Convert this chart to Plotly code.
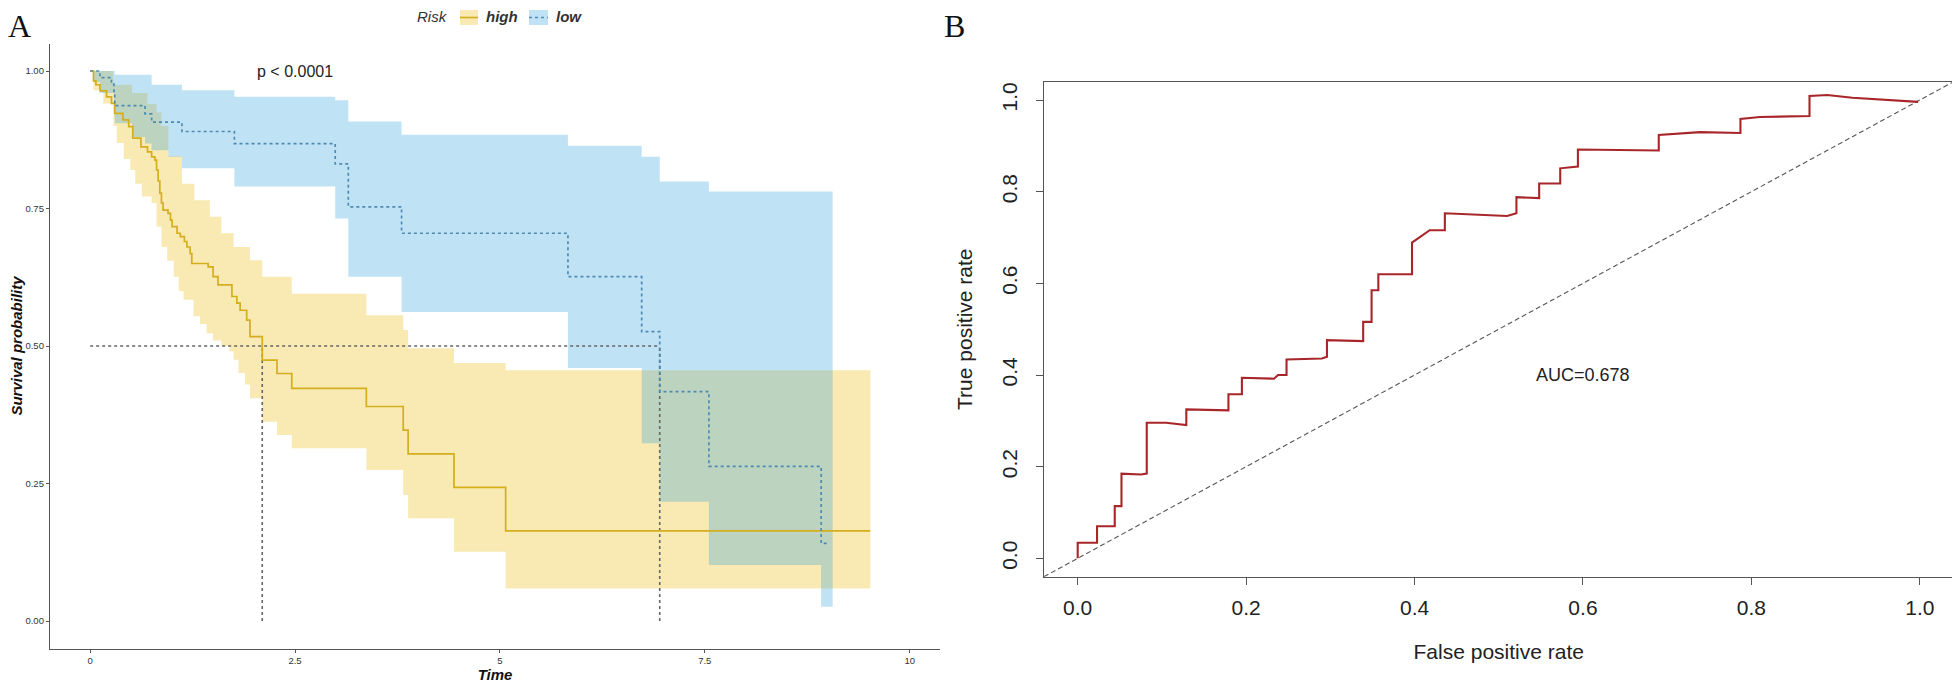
import plotly.graph_objects as go

# ---- Panel A: Kaplan-Meier curves by risk group ----
high_time = [0, 0.04, 0.07, 0.12, 0.20, 0.26, 0.30, 0.40, 0.47, 0.52, 0.62, 0.70, 0.75, 0.79, 0.81,
             0.83, 0.85, 0.87, 0.89, 0.95, 0.98, 1.00, 1.06, 1.10, 1.15, 1.18, 1.22, 1.24, 1.44, 1.50,
             1.56, 1.73, 1.79, 1.83, 1.91, 1.95, 2.10, 2.28, 2.46, 3.37, 3.82, 3.88, 4.44, 5.07, 9.52]
high_surv = [1.0, 0.982, 0.975, 0.964, 0.953, 0.941, 0.923, 0.911, 0.899, 0.878, 0.862, 0.853, 0.844, 0.838, 0.820,
             0.800, 0.778, 0.760, 0.747, 0.741, 0.729, 0.717, 0.705, 0.699, 0.690, 0.680, 0.668, 0.650, 0.644, 0.626,
             0.611, 0.590, 0.578, 0.565, 0.547, 0.517, 0.4745, 0.450, 0.423, 0.390, 0.347, 0.304, 0.243, 0.164, 0.164]

high_upper_time = [0, 0.28, 0.51, 0.70, 0.81, 0.87, 0.955, 1.12, 1.27, 1.46, 1.60, 1.75, 1.95, 2.10,
                   2.46, 3.37, 3.82, 3.88, 4.44, 5.07, 9.52]
high_upper = [1.0, 0.975, 0.96, 0.94, 0.925, 0.90, 0.845, 0.795, 0.765, 0.735, 0.705, 0.68, 0.656, 0.626,
              0.595, 0.556, 0.529, 0.496, 0.469, 0.456, 0.456]

high_lower_time = [0, 0.04, 0.16, 0.285, 0.325, 0.41, 0.49, 0.55, 0.63, 0.75, 0.81, 0.87, 0.94, 1.02, 1.08,
                   1.14, 1.26, 1.34, 1.42, 1.50, 1.60, 1.70, 1.75, 1.81, 1.89, 1.95, 2.10, 2.28, 2.46, 3.37,
                   3.82, 3.88, 4.44, 5.07, 9.52]
high_lower = [1.0, 0.965, 0.941, 0.90, 0.869, 0.84, 0.82, 0.795, 0.772, 0.76, 0.717, 0.68, 0.655, 0.626, 0.60,
              0.584, 0.554, 0.54, 0.523, 0.51, 0.50, 0.49, 0.475, 0.451, 0.43, 0.405, 0.3625, 0.338, 0.314, 0.2745,
              0.229, 0.187, 0.126, 0.059, 0.059]

low_time = [0, 0.12, 0.26, 0.29, 0.30, 0.67, 0.75, 1.12, 1.76, 2.99, 3.15, 3.80, 5.83, 6.73, 6.95, 7.55, 8.92, 9.00]
low_surv = [1.0, 0.988, 0.976, 0.958, 0.937, 0.922, 0.907, 0.89, 0.868, 0.831, 0.753, 0.705, 0.626, 0.526,
            0.417, 0.281, 0.141, 0.141]

low_upper_time = [0, 0.30, 0.75, 1.12, 1.76, 2.99, 3.15, 3.80, 5.83, 6.73, 6.95, 7.55, 9.06]
low_upper = [1.0, 0.993, 0.975, 0.965, 0.953, 0.947, 0.908, 0.884, 0.864, 0.844, 0.799, 0.781, 0.781]

low_lower_time = [0, 0.04, 0.12, 0.29, 0.30, 0.51, 0.67, 0.75, 0.955, 1.12, 1.76, 2.99, 3.15, 3.80, 5.83,
                  6.73, 6.95, 7.55, 8.92, 9.06]
low_lower = [1.0, 0.98, 0.96, 0.93, 0.905, 0.88, 0.868, 0.856, 0.844, 0.823, 0.79, 0.732, 0.626, 0.562, 0.46,
             0.323, 0.217, 0.102, 0.026, 0.026]

median_times = [2.10, 6.95]
km_xticks = [0, 2.5, 5, 7.5, 10]
km_xlabels = ["0", "2.5", "5", "7.5", "10"]
km_yticks = [0, 0.25, 0.5, 0.75, 1.0]
km_ylabels = ["0.00", "0.25", "0.50", "0.75", "1.00"]

# ---- Panel B: ROC curve ----
fpr = [0, 0, 0.023, 0.023, 0.044, 0.044, 0.052, 0.052, 0.075, 0.082, 0.082, 0.105, 0.129, 0.129, 0.179,
       0.179, 0.195, 0.195, 0.233, 0.238, 0.248, 0.248, 0.290, 0.296, 0.296, 0.339, 0.339, 0.349, 0.349, 0.357,
       0.357, 0.397, 0.397, 0.418, 0.436, 0.436, 0.510, 0.521, 0.521, 0.548, 0.548, 0.573, 0.573, 0.594, 0.594,
       0.690, 0.690, 0.720, 0.739, 0.787, 0.787, 0.810, 0.869, 0.869, 0.890, 0.920, 0.955, 0.998]
tpr = [0, 0.034, 0.034, 0.070, 0.070, 0.114, 0.114, 0.185, 0.183, 0.185, 0.296, 0.296, 0.291, 0.325, 0.323,
       0.358, 0.358, 0.394, 0.392, 0.400, 0.400, 0.434, 0.436, 0.440, 0.476, 0.474, 0.516, 0.516, 0.585, 0.585,
       0.620, 0.620, 0.689, 0.716, 0.716, 0.753, 0.747, 0.753, 0.788, 0.786, 0.818, 0.818, 0.851, 0.855, 0.892,
       0.890, 0.924, 0.928, 0.930, 0.928, 0.9585, 0.963, 0.965, 1.009, 1.011, 1.005, 1.001, 0.996]
auc_label = "AUC=0.678"
roc_range = [-0.04, 1.04]
roc_ticks = [0, 0.2, 0.4, 0.6, 0.8, 1.0]
roc_labels = ["0.0", "0.2", "0.4", "0.6", "0.8", "1.0"]

W, H = 1960, 688
OFF = 8  # the page body margin pushes the figure down/right by this much
HIGH_LINE, HIGH_FILL = "#D4AE1E", "rgba(231,184,0,0.30)"
LOW_LINE, LOW_FILL = "#4F8AB2", "rgba(46,159,223,0.30)"
SANS = "Liberation Sans"


def px(x):
    return (x - OFF) / W


def py(y):
    return 1 - (y - OFF) / H


fig = go.Figure()

# confidence bands (lower edge, then upper edge filled back to it)
for lt, lv, ut, uv, fc in [(high_lower_time, high_lower, high_upper_time, high_upper, HIGH_FILL),
                           (low_lower_time, low_lower, low_upper_time, low_upper, LOW_FILL)]:
    fig.add_trace(go.Scatter(x=lt, y=lv, mode="lines", line=dict(width=0, shape="hv"),
                             hoverinfo="skip", showlegend=False, xaxis="x", yaxis="y"))
    fig.add_trace(go.Scatter(x=ut, y=uv, mode="lines", line=dict(width=0, shape="hv"),
                             fill="tonexty", fillcolor=fc, hoverinfo="skip", showlegend=False,
                             xaxis="x", yaxis="y"))

# median reference lines
fig.add_trace(go.Scatter(x=[0, max(median_times)], y=[0.5, 0.5], mode="lines",
                         line=dict(color="#666666", width=1.6, dash="dot"), showlegend=False,
                         xaxis="x", yaxis="y"))
for mt in median_times:
    fig.add_trace(go.Scatter(x=[mt, mt], y=[0, 0.5], mode="lines",
                             line=dict(color="#666666", width=1.6, dash="dot"), showlegend=False,
                             xaxis="x", yaxis="y"))

# survival curves
fig.add_trace(go.Scatter(x=high_time, y=high_surv, mode="lines", name="high",
                         line=dict(color=HIGH_LINE, width=1.7, shape="hv"), showlegend=False,
                         xaxis="x", yaxis="y"))
fig.add_trace(go.Scatter(x=low_time, y=low_surv, mode="lines", name="low",
                         line=dict(color=LOW_LINE, width=1.7, shape="hv", dash="dot"), showlegend=False,
                         xaxis="x", yaxis="y"))

# ROC
fig.add_trace(go.Scatter(x=roc_range, y=roc_range, mode="lines",
                         line=dict(color="#555555", width=1.1, dash="5px,3px"), showlegend=False,
                         xaxis="x2", yaxis="y2"))
fig.add_trace(go.Scatter(x=fpr, y=tpr, mode="lines", line=dict(color="#A8262A", width=2.1),
                         showlegend=False, xaxis="x2", yaxis="y2"))

km_axis = dict(showline=True, linecolor="#555555", linewidth=1.3, ticks="outside", ticklen=3,
               tickcolor="#555555", showgrid=False, zeroline=False,
               tickfont=dict(family=SANS, size=9.5, color="#333333"))
roc_axis = dict(showline=True, mirror=True, linecolor="#555555", linewidth=1.3, ticks="outside", ticklen=7,
                tickcolor="#555555", showgrid=False, zeroline=False, range=roc_range,
                tickvals=roc_ticks, ticktext=roc_labels,
                tickfont=dict(family=SANS, size=21, color="#222222"))

fig.update_layout(
    width=W, height=H, autosize=False, margin=dict(l=0, r=0, t=0, b=0),
    paper_bgcolor="white", plot_bgcolor="white", showlegend=False,
    xaxis=dict(km_axis, domain=[px(50), px(940)], range=[-0.49, 10.37], anchor="y",
               tickvals=km_xticks, ticktext=km_xlabels,
               title=dict(text="<b><i>Time</i></b>", font=dict(family=SANS, size=15, color="#111111"),
                          standoff=4)),
    yaxis=dict(km_axis, domain=[py(648.5), py(43.5)], range=[-0.05, 1.05], anchor="x",
               tickvals=km_yticks, ticktext=km_ylabels,
               title=dict(text="<b><i>Survival probability</i></b>",
                          font=dict(family=SANS, size=15, color="#111111"), standoff=7)),
    xaxis2=dict(roc_axis, domain=[px(1044), px(1953.5)], anchor="y2", ticklabelstandoff=5,
                title=dict(text="False positive rate", font=dict(family=SANS, size=21, color="#222222"),
                           standoff=26)),
    yaxis2=dict(roc_axis, domain=[py(576.7), py(81.7)], anchor="x2", tickangle=-90, ticklabelstandoff=10,
                title=dict(text="True positive rate", font=dict(family=SANS, size=21, color="#222222"),
                           standoff=20)),
)

# texts along the top edge hang from the top of the figure so nothing gets clipped
top = dict(xref="paper", yref="paper", y=1, yanchor="top", showarrow=False, borderpad=0, borderwidth=0)
annotations = [
    dict(x=2.5, y=1.0, xref="x", yref="y", text="p < 0.0001", showarrow=False, yanchor="middle",
         font=dict(family=SANS, size=16, color="#222222")),
    dict(x=0.6, y=0.4, xref="x2", yref="y2", text=auc_label, showarrow=False, yanchor="middle",
         font=dict(family=SANS, size=18, color="#222222")),
    dict(top, x=0, xanchor="left", text="A",
         font=dict(family="Liberation Serif", size=32, color="#111111")),
    dict(top, x=px(954), xanchor="center", text="B",
         font=dict(family="Liberation Serif", size=32, color="#111111")),
    dict(top, x=px(417), xanchor="left", text="<i>Risk</i>",
         font=dict(family=SANS, size=15, color="#333333")),
    dict(top, x=px(486), xanchor="left", text="<b><i>high</i></b>",
         font=dict(family=SANS, size=15, color="#333333")),
    dict(top, x=px(556), xanchor="left", text="<b><i>low</i></b>",
         font=dict(family=SANS, size=15, color="#333333")),
]
fig.update_layout(annotations=annotations)

# legend keys
key_top, key_bot, key_mid = 10, 25, 17.5
shapes = [
    dict(type="rect", xref="paper", yref="paper", x0=px(460), x1=px(478), y0=py(key_bot), y1=py(key_top),
         fillcolor=HIGH_FILL, line=dict(width=0)),
    dict(type="line", xref="paper", yref="paper", x0=px(460), x1=px(478), y0=py(key_mid), y1=py(key_mid),
         line=dict(color=HIGH_LINE, width=1.7)),
    dict(type="rect", xref="paper", yref="paper", x0=px(529), x1=px(548), y0=py(key_bot), y1=py(key_top),
         fillcolor=LOW_FILL, line=dict(width=0)),
    dict(type="line", xref="paper", yref="paper", x0=px(529), x1=px(548), y0=py(key_mid), y1=py(key_mid),
         line=dict(color=LOW_LINE, width=1.7, dash="dot")),
]
fig.update_layout(shapes=shapes)

fig.write_html("out.html")
